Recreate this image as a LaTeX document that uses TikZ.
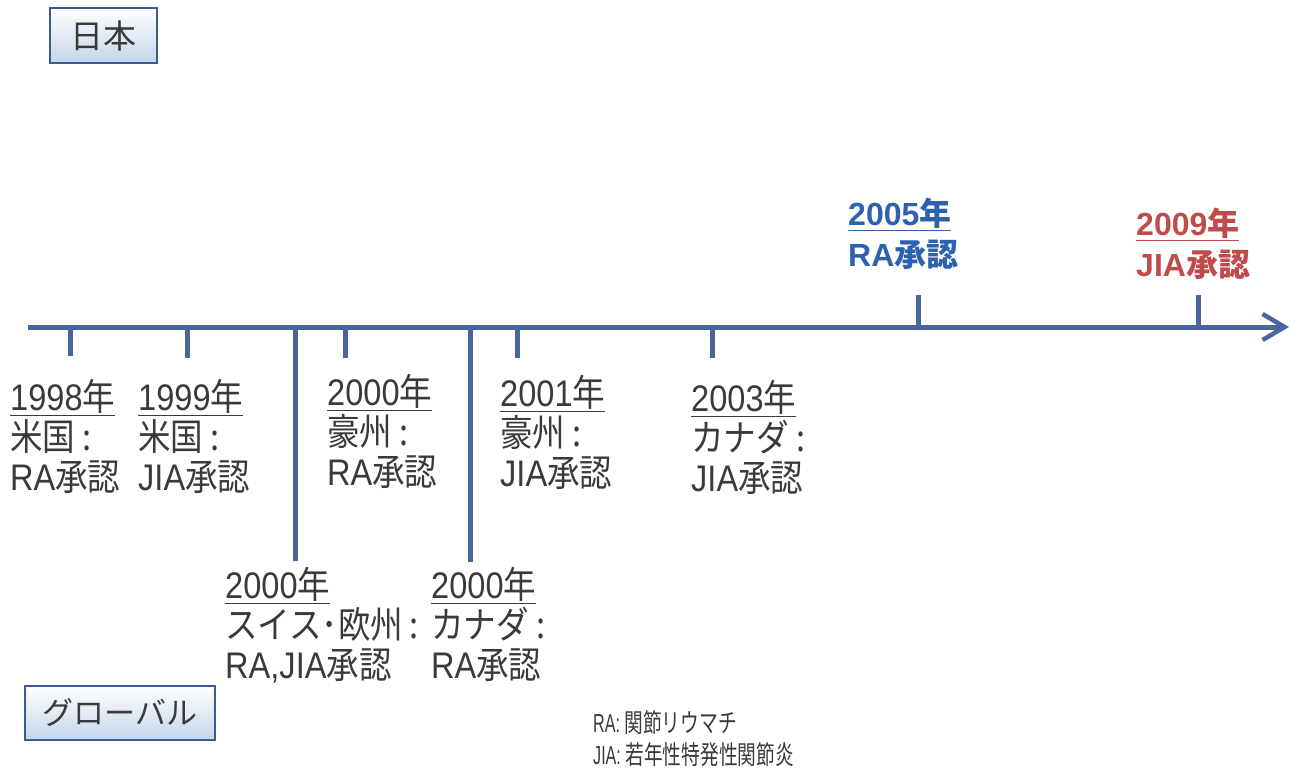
\documentclass[tikz,border=0pt]{standalone}
\usepackage{fontspec}
\usetikzlibrary{arrows.meta}
\setmainfont{Liberation Sans}
\newfontfamily\lat[FakeStretch=0.88]{Liberation Sans}
\newfontfamily\jp[FakeStretch=0.88]{Noto Sans CJK JP}
\newfontfamily\latb{Liberation Sans}
\newfontfamily\jpb{Noto Sans CJK JP}
\newfontfamily\latn[FakeStretch=0.62]{Liberation Sans}
\newfontfamily\jpn[FakeStretch=0.72]{Noto Sans CJK JP}
\newfontfamily\jpbox{Noto Sans CJK JP}
\newcommand\J[1]{{\jp #1}}
\newcommand\JB[1]{{\jpb #1}}
\newcommand\JN[1]{{\jpn #1}}
\newcommand\yr[1]{\underline{#1}}
\definecolor{axisblue}{HTML}{4A64A0}
\definecolor{txtgray}{HTML}{3A3A3A}
\definecolor{jpblue}{HTML}{2F62AE}
\definecolor{jpred}{HTML}{BF4B4B}
\definecolor{boxedge}{HTML}{3C5A96}
\definecolor{boxfill}{HTML}{C4D5EA}
\tikzset{
  axisline/.style={draw=axisblue, line width=5pt},
  tickline/.style={draw=axisblue, line width=5pt},
  lbl/.style={anchor=north west, align=left, inner sep=0pt, text=txtgray,
    font=\lat\fontsize{37}{40}\selectfont},
  toplbl/.style={anchor=north west, align=left, inner sep=0pt,
    font=\latb\bfseries\fontsize{32}{41}\selectfont},
  legend/.style={anchor=north west, align=left, inner sep=0pt, text=txtgray,
    font=\latn\fontsize{26}{32}\selectfont},
  areabox/.style={draw=boxedge, line width=1.5pt, top color=white, bottom color=boxfill,
    inner sep=0pt, text=txtgray},
}
\begin{document}
\begin{tikzpicture}[x=1pt,y=-1pt]
\useasboundingbox (0,0) rectangle (1299,778);
% region boxes
\node[areabox, minimum width=107pt, minimum height=55pt, font=\jpbox\fontsize{33}{33}\selectfont] (japan) at (103.5,35.5) {日本};
\node[areabox, minimum width=190pt, minimum height=54pt, font=\jpbox\fontsize{31}{31}\selectfont] (global) at (120,713) {グローバル};
% axis
\coordinate (ax0) at (28,327);
\coordinate (ax1) at (1289,327);
\draw[axisline, -{Straight Barb[length=22pt,width=26pt,line width=4.5pt]}] (ax0) -- (ax1);
% tick coordinates
\coordinate (t98a) at (70,327);  \coordinate (t98b) at (70,356);
\coordinate (t99a) at (187,327); \coordinate (t99b) at (187,358);
\coordinate (t00sa) at (295,327); \coordinate (t00sb) at (295,561);
\coordinate (t00aa) at (345,327); \coordinate (t00ab) at (345,358);
\coordinate (t00ca) at (470,327); \coordinate (t00cb) at (470,562);
\coordinate (t01a) at (517,327); \coordinate (t01b) at (517,358);
\coordinate (t03a) at (712,327); \coordinate (t03b) at (712,358);
\coordinate (t05a) at (918,327); \coordinate (t05b) at (918,295);
\coordinate (t09a) at (1198,327); \coordinate (t09b) at (1198,295);
\foreach \a/\b in {t98a/t98b,t99a/t99b,t00sa/t00sb,t00aa/t00ab,t00ca/t00cb,t01a/t01b,t03a/t03b,t05a/t05b,t09a/t09b}
  \draw[tickline] (\a) -- (\b);
% labels below the axis
\node[lbl] (l98) at (10,379) {\yr{1998\J{年}}\\\J{米国 :}\\RA\J{承認}};
\node[lbl] (l99) at (138,379) {\yr{1999\J{年}}\\\J{米国 :}\\JIA\J{承認}};
\node[lbl] (l00a) at (327,374) {\yr{2000\J{年}}\\\J{豪州 :}\\RA\J{承認}};
\node[lbl] (l01) at (500,375) {\yr{2001\J{年}}\\\J{豪州 :}\\JIA\J{承認}};
\node[lbl] (l03) at (691,380) {\yr{2003\J{年}}\\\J{カナダ :}\\JIA\J{承認}};
\node[lbl] (l00s) at (225,567) {\yr{2000\J{年}}\\\J{スイス･欧州\,:}\\RA,JIA\J{承認}};
\node[lbl] (l00c) at (431,567) {\yr{2000\J{年}}\\\J{カナダ :}\\RA\J{承認}};
% Japan labels above the axis
\node[toplbl, text=jpblue] (l05) at (848,198) {\yr{2005\JB{年}}\\RA\JB{承認}};
\node[toplbl, text=jpred] (l09) at (1136,208) {\yr{2009\JB{年}}\\JIA\JB{承認}};
% legend
\node[legend] (leg) at (593,710) {RA: \JN{関節リウマチ}\\JIA: \JN{若年性特発性関節炎}};
\end{tikzpicture}
\end{document}
